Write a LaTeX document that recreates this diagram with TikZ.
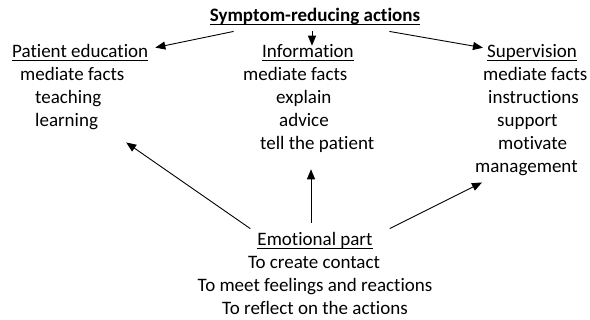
\documentclass[tikz,border=0pt]{standalone}
\usepackage{fontspec}
\setmainfont{Carlito}[Ligatures=NoCommon]
\usetikzlibrary{arrows.meta}
\newcommand\undl[1]{\setbox0\hbox{#1}\rlap{\rule[-3pt]{\wd0}{0.9pt}}\box0}

\begin{document}
\begin{tikzpicture}[x=1pt,y=-1pt,
    txt/.style={inner sep=0pt,anchor=base west,font=\fontsize{19}{23}\selectfont},
    arr/.style={-{Triangle[length=10pt,width=8pt]},line width=0.9pt}]
    \useasboundingbox (0,0) rectangle (590,320);
    \node[txt,anchor=base,font=\fontsize{19}{23}\selectfont\bfseries] (title) at (315,22) {\undl{Symptom-reducing actions}};
    % left column
    \node[txt] (patedu) at (12,58) {\undl{Patient education}};
    \node[txt] (pfacts) at (20,81) {mediate facts};
    \node[txt] (teach) at (35,104) {teaching};
    \node[txt] (learn) at (35,127) {learning};
    % middle column
    \node[txt] (info) at (262,58) {\undl{Information}};
    \node[txt] (ifacts) at (243,81) {mediate facts};
    \node[txt] (explain) at (276,104) {explain};
    \node[txt] (advice) at (279,127) {advice};
    \node[txt] (tellp) at (260,150) {tell the patient};
    % right column
    \node[txt] (superv) at (487,58) {\undl{Supervision}};
    \node[txt] (sfacts) at (483,81) {mediate facts};
    \node[txt] (instr) at (488,104) {instructions};
    \node[txt] (support) at (497,127) {support};
    \node[txt] (motiv) at (498,150) {motivate};
    \node[txt] (mgmt) at (475,173) {management};
    % bottom
    \node[txt,anchor=base] (emo) at (315,246) {\undl{Emotional part}};
    \node[txt,anchor=base] (contact) at (314,269) {To create contact};
    \node[txt,anchor=base] (feel) at (315,292) {To meet feelings and reactions};
    \node[txt,anchor=base] (reflect) at (315,315) {To reflect on the actions};
    % arrows
    \draw[arr] ([shift={(24,6)}]title.south west) -- ([shift={(7,3)}]patedu.north east);
    \draw[arr] ([shift={(-3,6)}]title.south) -- ([shift={(-3,1)}]title.south |- info.north);
    \draw[arr] ([shift={(-31,6)}]title.south east) -- ([shift={(-4,3)}]superv.north west);
    \draw[arr] ([shift={(-7,-4)}]emo.north west) -- ([shift={(28,12)}]learn.south east);
    \draw[arr] ([shift={(-4,-10)}]emo.north) -- ([xshift=-4pt,yshift=-16pt]emo.north |- tellp.south);
    \draw[arr] ([shift={(17,-4)}]emo.north east) -- ([shift={(7,6)}]mgmt.south west);
\end{tikzpicture}
\end{document}
